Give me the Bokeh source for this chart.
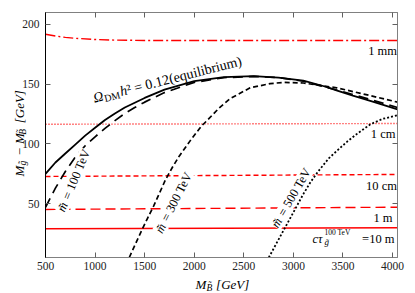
import math
from bokeh.plotting import figure
from bokeh.models import Range1d, LinearAxis, FixedTicker, Label, CustomJSTickFormatter
from bokeh.embed import file_html
from bokeh.resources import INLINE

# ---------------- data ----------------
x_ticks = [500, 1000, 1500, 2000, 2500, 3000, 3500, 4000]
y_ticks = [50, 100, 150, 200]

# relic abundance Omega h^2 = 0.12 (equilibrium)
omega_x = [500, 600, 700, 800, 900, 1000, 1100, 1200, 1300, 1400, 1500, 1700, 2000,
           2300, 2600, 2850, 3100, 3300, 3450, 3600, 3800, 4050]
omega_y = [75, 84.5, 92, 99.5, 107, 113.5, 120, 125.5, 130.5, 134.5, 138.5, 145.5, 152.5,
           156, 156.8, 155.5, 153, 148.5, 144.5, 140.5, 135.5, 129]

# m~ = 100 TeV
m100_x = [500, 600, 700, 800, 900, 1000, 1100, 1200, 1300, 1400, 1500, 1700, 2000,
          2300, 2600, 2850, 3100, 3400, 3700, 4050]
m100_y = [47, 63, 77, 89, 98.5, 106, 113, 119.5, 125.5, 130.5, 135, 143, 151.5,
          155.5, 156.5, 155.5, 152.5, 146, 139, 130.5]

# m~ = 300 TeV
m300_x = [1345, 1400, 1475, 1530, 1590, 1650, 1710, 1780, 1850, 1962, 2073, 2128, 2250,
          2363, 2564, 2766, 2900, 3100, 3437, 3773, 4050]
m300_y = [5, 15, 28.5, 38, 48, 59, 70, 80.5, 90, 103, 115, 119.5, 130,
          138, 147, 150.5, 151.5, 151, 147, 140.5, 135]

# m~ = 500 TeV
m500_x = [2752, 2850, 2903, 3021, 3100, 3172, 3250, 3357, 3475, 3543, 3650, 3778, 3900, 4050]
m500_y = [5, 20, 28, 46, 58, 68, 77, 88, 97, 102, 109, 116.5, 121, 124]

# gluino decay length contours
ct1mm_x = [500, 600, 700, 800, 1000, 1200, 1500, 2500, 4050]
ct1mm_y = [191.8, 190.3, 189.2, 188.4, 187.4, 186.9, 186.6, 186.6, 186.6]
ct1cm_x = [500, 4050]
ct1cm_y = [116.5, 117.1]
ct10cm_x = [500, 4050]
ct10cm_y = [72.8, 74.5]
ct1m_x = [500, 4050]
ct1m_y = [45.2, 47.1]
ct10m_x = [500, 4050]
ct10m_y = [29.0, 29.9]

# ---------------- layout ----------------
XMIN, XMAX, YMIN, YMAX = 500, 4050, 5, 210
W, H = 413, 293
BL, BR, BT, BB = 45, 16, 12, 36
FW, FH = W - BL - BR, H - BT - BB
FONT = "Liberation Serif"
NB = "\u00a0"


def X(px):
    return XMIN + (px - BL) * (XMAX - XMIN) / FW


def Y(py):
    return YMAX - (py - BT) * (YMAX - YMIN) / FH


p = figure(width=W, height=H, x_range=Range1d(XMIN, XMAX), y_range=Range1d(YMIN, YMAX),
           output_backend="svg", toolbar_location=None,
           min_border_left=BL, min_border_right=BR, min_border_top=BT, min_border_bottom=BB)
p.grid.visible = False
p.outline_line_color = "#808080"
p.background_fill_color = "white"
p.border_fill_color = "white"

for ax, tk in ((p.xaxis[0], x_ticks), (p.yaxis[0], y_ticks)):
    ax.ticker = FixedTicker(ticks=tk)
    ax.major_tick_in = 5
    ax.major_tick_out = 0
    ax.minor_tick_in = 0
    ax.minor_tick_out = 0
    ax.major_label_text_font = FONT
    ax.major_label_text_font_size = "11.5px"
    ax.major_label_text_color = "#222222"
    ax.major_tick_line_color = "#606060"
p.xaxis.major_label_standoff = 4
p.yaxis.major_label_standoff = 6
p.xaxis.axis_line_color = "#808080"
p.yaxis.axis_line_color = "black"

for loc, tk in (("above", x_ticks), ("right", y_ticks)):
    ax = LinearAxis(ticker=FixedTicker(ticks=tk),
                    formatter=CustomJSTickFormatter(code="return ''"),
                    major_tick_in=5, major_tick_out=0, minor_tick_in=0, minor_tick_out=0,
                    major_label_standoff=0, major_label_text_font_size="1px",
                    axis_line_color="#808080", major_tick_line_color="#606060")
    p.add_layout(ax, loc)

# ---------------- lines ----------------
RED = "#ff0000"
p.line(ct1mm_x, ct1mm_y, color=RED, line_width=1.4, line_dash="10 3 2 3")
p.line(ct1cm_x, ct1cm_y, color=RED, line_width=1.4, line_dash="1 2")
p.line(ct10cm_x, ct10cm_y, color=RED, line_width=1.4, line_dash="5 3")
p.line(ct1m_x, ct1m_y, color=RED, line_width=1.4, line_dash="10 5")
p.line(ct10m_x, ct10m_y, color=RED, line_width=1.4)

p.line(omega_x, omega_y, color="black", line_width=1.8)
p.line(m100_x, m100_y, color="black", line_width=1.7, line_dash="10 6")
p.line(m300_x, m300_y, color="black", line_width=1.7, line_dash="5 3")
p.line(m500_x, m500_y, color="black", line_width=1.8, line_dash="2 2")


# ---------------- texts ----------------
def lab(text, px, py, size, style="normal", ang=0.0, align="left", bg=None, place=None):
    th = math.radians(ang)
    obj = Label(x=X(px), y=Y(py), text=text, angle=th, text_font=FONT,
                text_font_size=f"{size}px", text_font_style=style,
                text_align=align, text_baseline="alphabetic", text_color="black")
    if bg:
        obj.background_fill_color = bg
    if place:
        p.add_layout(obj, place)
    else:
        p.add_layout(obj)


def rich(parts, px0, py0, ang_deg, bg=None, center_len=None):
    th = math.radians(ang_deg)
    ux, uy = math.cos(th), -math.sin(th)
    dx, dy = math.sin(th), math.cos(th)
    if center_len is not None:
        px0 = px0 - center_len / 2 * ux + 3.5 * dx
        py0 = py0 - center_len / 2 * uy + 3.5 * dy
    for text, size, style, pos, shift in parts:
        lab(text, px0 + pos * ux + shift * dx, py0 + pos * uy + shift * dy,
            size, style, ang_deg, bg=bg)


# axis titles: one label per side panel so the frame keeps its place
lab("M" + NB * 3 + "\u2212" + NB + "M" + NB * 3 + "[GeV]", 19, 176, 13, "italic", 90,
    place="left")
lab("g\u0303" + NB * 11 + "B\u0303", 22, 165, 9.5, "italic", 90, place="right")
lab("M" + NB * 3 + "[GeV]", 195, 284, 13, "italic", place="below")
lab("B\u0303", 206, 287, 9.5, "italic", place="above")

# relic curve label
rich([("\u03a9", 14, "italic", 0, 0), ("DM", 10, "normal", 10.5, 2.7),
      ("h", 14, "italic", 27.5, 0), ("\u00b2 = 0.12(equilibrium)", 14, "normal", 34.5, 0)],
     93, 98, 14.3)

# mass labels
for txt, cx, cy, ang in (("100 TeV", 70, 179, 67), ("300 TeV", 170, 201, 63),
                         ("500 TeV", 287.5, 196, 60)):
    rich([("m\u0303", 12.5, "italic", 0, 0), ("= " + txt, 12.5, "normal", 13.5, 0)],
         cx, cy, ang, bg="white", center_len=66)

# decay length labels
for txt, rx, by in (("1 mm", 396.5, 50.5), ("1 cm", 395, 133), ("10 cm", 396.5, 185.5),
                    ("1 m", 392, 217)):
    lab(txt, rx, by, 12.5, align="right")

rich([("c\u03c4", 12.5, "italic", 0, 0), ("100 TeV", 7.5, "normal", 12, -6),
      ("g\u0303", 9, "italic", 12, 3)], 312, 238, 0)
lab("=10 m", 394, 238, 12.5, align="right")

open("out.html", "w").write(file_html(p, INLINE))
